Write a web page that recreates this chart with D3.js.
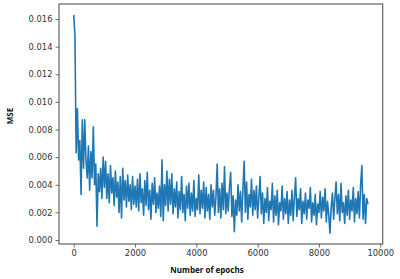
<!DOCTYPE html>
<html>
<head>
<meta charset="utf-8">
<script src="https://cdn.jsdelivr.net/npm/d3@7"></script>
<style>
  body { margin: 0; background: #fff; }
  svg { display: block; }
</style>
</head>
<body>
<svg></svg>
<script>

// MSE per logged epoch (one entry every 40 epochs, 0 .. 9600)
var epochStep = 40;
var mse = [
  0.0163, 0.0148, 0.0063, 0.0095, 0.0058, 0.0072, 0.0033, 0.0087, 0.0052, 0.0087,
  0.0058, 0.0045, 0.0068, 0.0036, 0.0064, 0.0045, 0.0082, 0.0040, 0.0055, 0.0010,
  0.0048, 0.0035, 0.0052, 0.0030, 0.0060, 0.0038, 0.0057, 0.0030, 0.0048, 0.0027,
  0.0054, 0.0034, 0.0045, 0.0025, 0.0050, 0.0031, 0.0042, 0.0020, 0.0046, 0.0016,
  0.0052, 0.0029, 0.0043, 0.0024, 0.0047, 0.0028, 0.0040, 0.0022, 0.0046, 0.0026,
  0.0039, 0.0024, 0.0044, 0.0021, 0.0048, 0.0027, 0.0037, 0.0018, 0.0043, 0.0025,
  0.0049, 0.0022, 0.0036, 0.0015, 0.0041, 0.0026, 0.0045, 0.0020, 0.0034, 0.0023,
  0.0039, 0.0017, 0.0058, 0.0014, 0.0040, 0.0025, 0.0050, 0.0021, 0.0044, 0.0026,
  0.0048, 0.0019, 0.0037, 0.0024, 0.0042, 0.0016, 0.0035, 0.0022, 0.0046, 0.0020,
  0.0033, 0.0014, 0.0039, 0.0023, 0.0041, 0.0018, 0.0034, 0.0021, 0.0043, 0.0017,
  0.0030, 0.0022, 0.0047, 0.0019, 0.0036, 0.0023, 0.0042, 0.0016, 0.0038, 0.0021,
  0.0033, 0.0015, 0.0040, 0.0024, 0.0036, 0.0018, 0.0031, 0.0055, 0.0020, 0.0037,
  0.0016, 0.0041, 0.0022, 0.0053, 0.0019, 0.0034, 0.0021, 0.0038, 0.0049, 0.0017,
  0.0032, 0.0006, 0.0029, 0.0018, 0.0040, 0.0021, 0.0035, 0.0013, 0.0037, 0.0057,
  0.0020, 0.0042, 0.0015, 0.0033, 0.0024, 0.0044, 0.0018, 0.0036, 0.0022, 0.0039,
  0.0016, 0.0031, 0.0046, 0.0019, 0.0034, 0.0012, 0.0030, 0.0020, 0.0038, 0.0014,
  0.0028, 0.0022, 0.0041, 0.0013, 0.0032, 0.0018, 0.0036, 0.0011, 0.0027, 0.0021,
  0.0039, 0.0015, 0.0030, 0.0019, 0.0035, 0.0012, 0.0029, 0.0018, 0.0036, 0.0014,
  0.0031, 0.0045, 0.0017, 0.0030, 0.0022, 0.0037, 0.0012, 0.0028, 0.0019, 0.0034,
  0.0015, 0.0029, 0.0023, 0.0038, 0.0013, 0.0027, 0.0018, 0.0033, 0.0011, 0.0026,
  0.0020, 0.0035, 0.0016, 0.0031, 0.0021, 0.0037, 0.0013, 0.0028, 0.0018, 0.0005,
  0.0024, 0.0034, 0.0015, 0.0030, 0.0042, 0.0019, 0.0033, 0.0014, 0.0041, 0.0020,
  0.0027, 0.0012, 0.0032, 0.0018, 0.0036, 0.0015, 0.0029, 0.0021, 0.0038, 0.0013,
  0.0030, 0.0019, 0.0035, 0.0016, 0.0040, 0.0054, 0.0015, 0.0033, 0.0012, 0.0030,
  0.0026
];
var xTicks = [0, 2000, 4000, 6000, 8000, 10000];
var yTicks = [0, 0.002, 0.004, 0.006, 0.008, 0.010, 0.012, 0.014, 0.016];

var W = 400, H = 279;
var plotL = 59, plotT = 4, plotR = 382.7, plotB = 244;

var svg = d3.select("svg")
  .attr("width", W)
  .attr("height", H)
  .style("background-color", "white");

var lastEpoch = (mse.length - 1) * epochStep;
var xPad = lastEpoch * 0.05;
var x = d3.scaleLinear()
  .domain([-xPad, lastEpoch + xPad])
  .range([plotL, plotR]);

var yMin = d3.min(mse), yMax = d3.max(mse);
var yPad = (yMax - yMin) * 0.05;
var y = d3.scaleLinear()
  .domain([yMin - yPad, yMax + yPad])
  .range([plotB, plotT]);

// the curve
var line = d3.line()
  .x(function(d, i) { return x(i * epochStep); })
  .y(function(d) { return y(d); });

svg.append("path")
  .datum(mse)
  .attr("d", line)
  .attr("fill", "none")
  .attr("stroke", "#1f77b4")
  .attr("stroke-width", 1.6)
  .attr("stroke-linejoin", "round");

// axes
var xAxis = svg.append("g")
  .attr("transform", "translate(0," + plotB + ")")
  .call(d3.axisBottom(x).tickValues(xTicks).tickFormat(d3.format("d")).tickSize(3.5).tickSizeOuter(0).tickPadding(3));
var yAxis = svg.append("g")
  .attr("transform", "translate(" + plotL + ",0)")
  .call(d3.axisLeft(y).tickValues(yTicks).tickFormat(d3.format(".3f")).tickSize(3.5).tickSizeOuter(0).tickPadding(3));

[xAxis, yAxis].forEach(function(g) {
  g.select(".domain").remove();
  g.selectAll("line").attr("stroke", "#444").attr("stroke-width", 0.8);
  g.selectAll("text")
    .attr("fill", "#333")
    .style("font-family", "DejaVu Sans")
    .style("font-size", "8.4px");
});

// frame
svg.append("rect")
  .attr("x", plotL)
  .attr("y", plotT)
  .attr("width", plotR - plotL)
  .attr("height", plotB - plotT)
  .attr("fill", "none")
  .attr("stroke", "#555")
  .attr("stroke-width", 1.1);

// labels
svg.append("text")
  .attr("x", 207)
  .attr("y", 273)
  .attr("text-anchor", "middle")
  .style("font-family", "Open Sans")
  .style("font-weight", "bold")
  .style("font-size", "8px")
  .attr("fill", "#111")
  .text("Number of epochs");

svg.append("text")
  .attr("transform", "translate(13,116) rotate(-90)")
  .attr("text-anchor", "middle")
  .style("font-family", "Open Sans")
  .style("font-weight", "bold")
  .style("font-size", "8px")
  .attr("fill", "#111")
  .text("MSE");

</script>
</body>
</html>
